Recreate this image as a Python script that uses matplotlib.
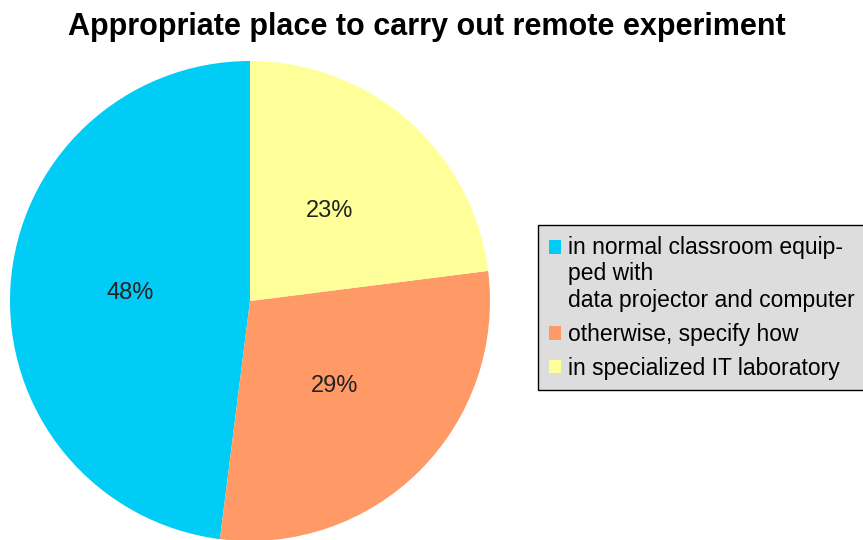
import matplotlib
matplotlib.use("Agg")
from matplotlib import pyplot as plt
from matplotlib.patches import Rectangle
from matplotlib.legend_handler import HandlerPatch

labels = ["in normal classroom equip-\nped with\ndata projector and computer",
          "otherwise, specify how",
          "in specialized IT laboratory"]
values = [48, 29, 23]
colors = ["#00CCF5", "#FF9966", "#FFFF99"]

plt.rcParams['font.family'] = ['Liberation Sans', 'DejaVu Sans']


class TopLineHandler(HandlerPatch):
    """Put the colour box next to the first line of a multi-line label."""
    def __init__(self, nlines):
        super().__init__()
        self.nlines = nlines

    def create_artists(self, legend, orig_handle, xdescent, ydescent,
                       width, height, fontsize, trans):
        shift = (self.nlines - 1) * 0.6 * fontsize
        p = Rectangle((-xdescent, -ydescent + shift), width, height)
        self.update_prop(p, orig_handle, legend)
        p.set_transform(trans)
        return [p]


fig = plt.figure(figsize=(8.63, 5.4), dpi=100)
# pie centre ~ (250, 301) px, radius ~240 px
ax = fig.add_axes([10 / 863, (540 - 541) / 540, 480 / 863, 480 / 540])
wedges, texts, autotexts = ax.pie(values, colors=colors, startangle=90,
                                  counterclock=True, autopct='%d%%',
                                  pctdistance=0.5,
                                  textprops={'fontsize': 17, 'color': '#222222'})
ax.set_xlim(-1, 1)
ax.set_ylim(-1, 1)
ax.set_aspect('equal')
for w in wedges:
    w.set_clip_on(False)

fig.text(427 / 863, 1 - 27 / 540, "Appropriate place to carry out remote experiment",
         ha='center', va='center', fontsize=22, fontweight='bold')

hmap = {w: TopLineHandler(lab.count("\n") + 1) for w, lab in zip(wedges, labels)}
leg = fig.legend(wedges, labels, loc='upper left', handler_map=hmap,
                 bbox_to_anchor=(538 / 863, 1 - 225 / 540),
                 fontsize=16.5, frameon=True, fancybox=False,
                 handlelength=0.55, handleheight=0.55, handletextpad=0.3,
                 borderpad=0.47, labelspacing=0.47, borderaxespad=0)
leg.get_frame().set_facecolor('#DDDDDD')
leg.get_frame().set_edgecolor('black')
leg.get_frame().set_alpha(1)

plt.savefig("out.png", dpi=100)
